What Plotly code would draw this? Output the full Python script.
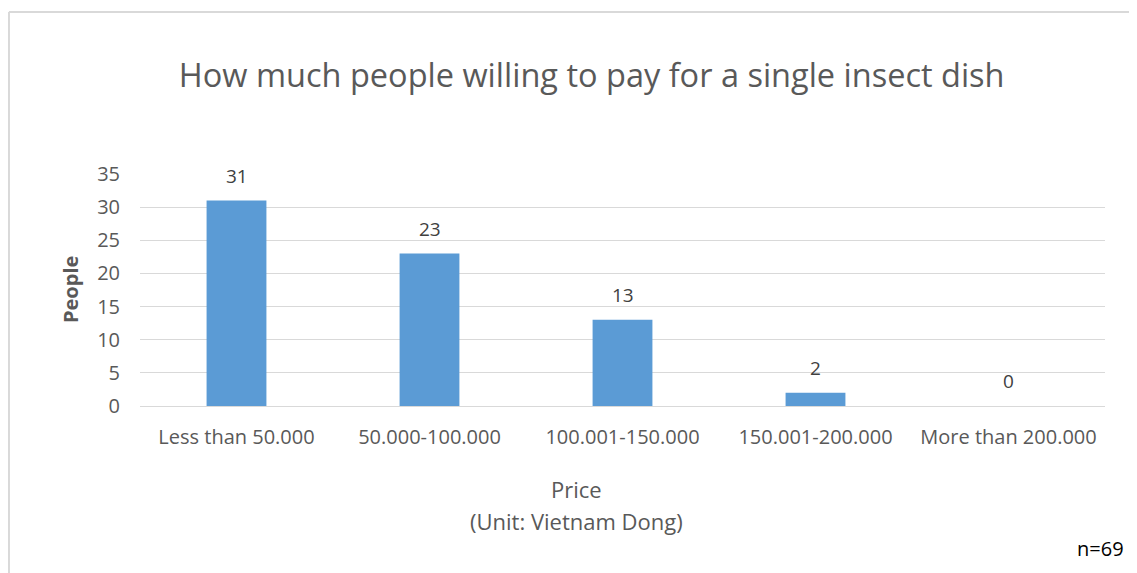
import plotly.graph_objects as go

price_ranges = ['Less than 50.000', '50.000-100.000', '100.001-150.000',
                '150.001-200.000', 'More than 200.000']
people = [31, 23, 13, 2, 0]

FONT = 'Open Sans'
GREY = '#595959'

fig = go.Figure()
fig.add_trace(go.Bar(
    x=price_ranges,
    y=people,
    marker=dict(color='#5B9BD5', line=dict(width=0)),
    hoverinfo='x+y',
))

# data labels above bars, Excel-style
for cat, val in zip(price_ranges, people):
    fig.add_annotation(
        x=cat, y=val, text=str(val), showarrow=False,
        yanchor='middle', yshift=25,
        font=dict(family=FONT, size=19, color='#404040'),
    )

# page adds an 8px body margin, so the figure is sized to compensate
fig.update_layout(
    width=1129, height=565,
    margin=dict(l=132, r=32, t=166, b=167),
    paper_bgcolor='white', plot_bgcolor='white',
    bargap=0.69,
    showlegend=False,
    font=dict(family=FONT, color=GREY),
    title=dict(
        text='How much people willing to pay for a single insect dish',
        x=0.517, xanchor='center', y=0.881, yanchor='middle',
        font=dict(family=FONT, size=32.5, color=GREY),
    ),
    xaxis=dict(
        showgrid=False, showline=False, ticks='',
        ticklabelstandoff=17,
        tickfont=dict(family=FONT, size=20, color=GREY),
    ),
    yaxis=dict(
        range=[0, 35], dtick=5, showline=False, ticks='',
        ticklabelstandoff=19,
        gridcolor='#D9D9D9', gridwidth=1,
        zeroline=True, zerolinecolor='#D9D9D9', zerolinewidth=1,
        tickfont=dict(family=FONT, size=20, color=GREY),
    ),
)

# axis titles
fig.add_annotation(
    xref='paper', yref='paper', x=-0.0725, y=0.5, textangle=-90,
    xanchor='center', yanchor='middle',
    text='<b>People</b>', showarrow=False,
    font=dict(family=FONT, size=20, color=GREY),
)
fig.add_annotation(
    xref='paper', yref='paper', x=0.452, y=-0.358,
    xanchor='center', yanchor='middle',
    text='Price', showarrow=False,
    font=dict(family=FONT, size=22, color=GREY),
)
fig.add_annotation(
    xref='paper', yref='paper', x=0.452, y=-0.496,
    xanchor='center', yanchor='middle',
    text='(Unit: Vietnam Dong)', showarrow=False,
    font=dict(family=FONT, size=22, color=GREY),
)

# sample size note
fig.add_annotation(
    xref='paper', yref='paper', x=0.995, y=-0.616,
    xanchor='center', yanchor='middle',
    text='n=69', showarrow=False,
    font=dict(family=FONT, size=20, color='black'),
)

# chart frame (only top and left edges are visible in the crop)
fig.add_shape(type='line', xref='paper', yref='paper',
              x0=-0.1358, x1=1.1, y0=1.698, y1=1.698,
              line=dict(color='#D9D9D9', width=2), layer='below')
fig.add_shape(type='line', xref='paper', yref='paper',
              x0=-0.1358, x1=-0.1358, y0=1.698, y1=-0.8,
              line=dict(color='#D9D9D9', width=2), layer='below')

fig.write_html('out.html')
